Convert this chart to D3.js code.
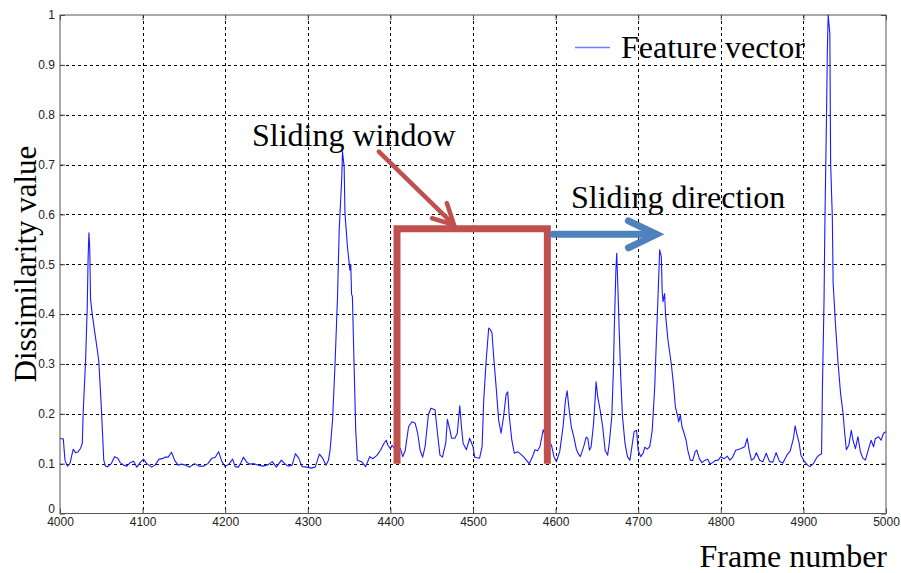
<!DOCTYPE html>
<html>
<head>
<meta charset="utf-8">
<script src="https://cdn.jsdelivr.net/npm/d3@7"></script>
<style>
  html, body { margin: 0; padding: 0; background: #fff; }
  svg { display: block; }
  .tick text { font-family: "Liberation Sans", Arial, sans-serif; font-size: 12px; fill: #222; }
  .serif { font-family: "Liberation Serif", "Times New Roman", serif; fill: #000; }
</style>
</head>
<body>
<svg id="chart" width="901" height="573"></svg>
<script>
// Frame index and dissimilarity value of the feature vector
const frames = [
  4000,4004,4006,4009,4012,4016,4019,4022,4025,4027,4028,4031,4033,4034,4035,4036,4037,4039,4042,4045,
  4047,4050,4053,4055,4058,4062,4066,4070,4073,4077,4081,4085,4089,4093,4097,4101,4105,4111,4115,4120,
  4124,4127,4131,4135,4139,4143,4147,4152,4157,4163,4168,4174,4179,4184,4188,4192,4196,4200,4205,4209,
  4212,4216,4219,4222,4226,4230,4235,4240,4246,4252,4257,4262,4268,4272,4276,4281,4285,4289,4293,4299,
  4304,4309,4314,4318,4322,4325,4327,4330,4333,4336,4338,4341,4342,4344,4345,4348,4351,4352,4353,4354,
  4356,4358,4360,4365,4370,4375,4379,4384,4388,4392,4395,4397,4400,4402,4405,4412,4415,4418,4422,4426,
  4430,4433,4436,4439,4442,4446,4449,4454,4457,4460,4463,4467,4469,4472,4474,4478,4481,4484,4486,4488,
  4492,4496,4500,4502,4508,4511,4513,4516,4519,4521,4523,4525,4528,4531,4534,4537,4540,4542,4544,4547,
  4550,4554,4557,4561,4565,4568,4572,4575,4578,4581,4585,4588,4592,4595,4598,4601,4605,4609,4612,4614,
  4616,4619,4622,4625,4627,4630,4634,4637,4639,4641,4643,4646,4648,4649,4651,4654,4657,4660,4663,4665,
  4668,4670,4671,4673,4674,4675,4677,4679,4681,4684,4687,4690,4693,4695,4698,4700,4703,4706,4708,4711,
  4714,4717,4720,4722,4724,4726,4728,4729,4730,4732,4733,4736,4740,4743,4745,4748,4749,4751,4753,4755,
  4758,4760,4763,4766,4769,4771,4774,4777,4781,4784,4787,4790,4793,4797,4800,4804,4808,4811,4814,4818,
  4824,4829,4832,4834,4837,4840,4843,4847,4851,4855,4859,4863,4867,4871,4875,4880,4884,4888,4890,4892,
  4895,4897,4901,4905,4908,4912,4916,4919,4922,4923,4925,4926,4928,4929,4930,4932,4933,4935,4936,4939,
  4942,4945,4948,4950,4952,4955,4958,4960,4963,4966,4969,4972,4975,4979,4982,4985,4987,4991,4994,4997,
  5000
];
const values = [
  0.150,0.150,0.107,0.095,0.100,0.129,0.122,0.124,0.131,0.141,0.200,0.308,0.415,0.510,0.563,0.532,0.430,0.400,0.365,0.330,
  0.305,0.214,0.107,0.095,0.094,0.100,0.114,0.111,0.102,0.097,0.095,0.102,0.105,0.093,0.102,0.109,0.100,0.093,0.097,0.109,
  0.110,0.113,0.113,0.123,0.106,0.097,0.099,0.097,0.093,0.100,0.095,0.095,0.100,0.111,0.113,0.124,0.104,0.094,0.100,0.109,
  0.094,0.093,0.102,0.113,0.103,0.099,0.100,0.097,0.095,0.098,0.104,0.093,0.107,0.100,0.095,0.097,0.120,0.111,0.094,0.093,
  0.091,0.093,0.119,0.111,0.097,0.107,0.127,0.188,0.301,0.435,0.569,0.669,0.726,0.696,0.602,0.535,0.488,0.500,0.440,0.435,
  0.301,0.168,0.107,0.104,0.094,0.114,0.110,0.117,0.127,0.140,0.147,0.137,0.130,0.137,0.130,0.131,0.114,0.127,0.174,0.184,
  0.181,0.161,0.127,0.113,0.134,0.198,0.211,0.208,0.161,0.117,0.113,0.141,0.189,0.168,0.151,0.151,0.161,0.216,0.174,0.141,
  0.128,0.151,0.134,0.113,0.111,0.134,0.228,0.308,0.372,0.369,0.362,0.315,0.254,0.188,0.161,0.194,0.238,0.244,0.194,0.147,
  0.121,0.124,0.120,0.114,0.106,0.100,0.114,0.128,0.126,0.134,0.168,0.154,0.145,0.137,0.114,0.104,0.124,0.174,0.228,0.246,
  0.214,0.174,0.154,0.130,0.121,0.114,0.134,0.153,0.151,0.127,0.134,0.181,0.234,0.264,0.234,0.207,0.174,0.127,0.117,0.141,
  0.194,0.288,0.368,0.489,0.522,0.475,0.368,0.268,0.194,0.141,0.114,0.107,0.141,0.164,0.167,0.127,0.114,0.121,0.133,0.129,
  0.134,0.167,0.254,0.348,0.435,0.529,0.515,0.448,0.425,0.441,0.401,0.348,0.301,0.254,0.214,0.194,0.184,0.198,0.174,0.164,
  0.147,0.127,0.107,0.106,0.124,0.127,0.110,0.102,0.107,0.109,0.100,0.102,0.106,0.107,0.114,0.110,0.115,0.107,0.112,0.127,
  0.130,0.134,0.151,0.130,0.107,0.110,0.122,0.107,0.104,0.121,0.104,0.103,0.122,0.105,0.101,0.117,0.125,0.151,0.176,0.160,
  0.140,0.117,0.105,0.097,0.094,0.100,0.112,0.117,0.120,0.250,0.430,0.580,0.800,0.930,1.000,0.963,0.700,0.596,0.462,0.375,
  0.301,0.241,0.201,0.161,0.128,0.137,0.167,0.147,0.130,0.154,0.124,0.111,0.107,0.130,0.147,0.134,0.150,0.154,0.147,0.161,
  0.164
];

// Tick values
const xTicks = d3.range(4000, 5001, 100);
const yTicks = [0, 0.1, 0.2, 0.3, 0.4, 0.5, 0.6, 0.7, 0.8, 0.9, 1];

// Sliding window (frame range and value range) and sliding direction arrow
const windowFrames = [4408, 4590];
const windowValues = [0.1, 0.571];
const windowArrow = [[4386, 0.726], [4477, 0.579]];
const directionArrow = [[4597, 0.56], [4722, 0.56]];

const svg = d3.select("#chart");
const x = d3.scaleLinear().domain([4000, 5000]).range([60, 886]);
const y = d3.scaleLinear().domain([0, 1]).range([513.5, 15]);
const [x0, x1] = x.range();
const [yb, yt] = y.range();

// Dotted grid
const grid = svg.append("g").attr("stroke", "#000").attr("stroke-width", 1)
  .attr("stroke-dasharray", "3,3");
grid.selectAll("line.v").data(xTicks.slice(1, -1)).join("line").attr("class", "v")
  .attr("x1", d => Math.round(x(d)) + 0.5).attr("x2", d => Math.round(x(d)) + 0.5)
  .attr("y1", yt).attr("y2", yb);
grid.selectAll("line.h").data(yTicks.slice(1, -1)).join("line").attr("class", "h")
  .attr("y1", d => Math.round(y(d)) + 0.5).attr("y2", d => Math.round(y(d)) + 0.5)
  .attr("x1", x0).attr("x2", x1);

// Axes with inward ticks on all four sides
const fmtY = d => (d === 0 ? "0" : d === 1 ? "1" : d.toFixed(1));
const styleAxis = g => {
  g.select(".domain").remove();
  g.selectAll(".tick line").attr("stroke", "#444");
};
svg.append("g").attr("transform", `translate(${x0},0)`)
  .call(d3.axisLeft(y).tickValues(yTicks).tickSize(-5).tickPadding(5).tickFormat(fmtY))
  .call(styleAxis)
  .call(g => g.selectAll(".tick text").filter(d => d === 0).attr("dy", "-0.05em"));
svg.append("g").attr("transform", `translate(${x1},0)`)
  .call(d3.axisRight(y).tickValues(yTicks).tickSize(-5).tickFormat(""))
  .call(styleAxis);
svg.append("g").attr("transform", `translate(0,${yb})`)
  .call(d3.axisBottom(x).tickValues(xTicks).tickSize(-5).tickPadding(4).tickFormat(d3.format("d")))
  .call(styleAxis);
svg.append("g").attr("transform", `translate(0,${yt})`)
  .call(d3.axisTop(x).tickValues(xTicks).tickSize(-5).tickFormat(""))
  .call(styleAxis);

// Plot box
svg.append("rect").attr("x", x0).attr("y", yt).attr("width", x1 - x0).attr("height", yb - yt)
  .attr("fill", "none").attr("stroke", "#555").attr("stroke-width", 1);

// Feature vector line
const line = d3.line().x((d, i) => x(frames[i])).y(d => y(d));
svg.append("path").datum(values).attr("d", line)
  .attr("fill", "none").attr("stroke", "#1a1aff").attr("stroke-width", 1.1)
  .attr("stroke-linejoin", "round");

// Legend
svg.append("line").attr("x1", 575).attr("x2", 610).attr("y1", 47.5).attr("y2", 47.5)
  .attr("stroke", "#6f7dff").attr("stroke-width", 1.5);
svg.append("text").attr("class", "serif").attr("x", 621).attr("y", 58)
  .attr("font-size", 32).text("Feature vector");

// Sliding window bracket
const red = "#c0504d";
svg.append("path")
  .attr("d", d3.line()([
    [x(windowFrames[0]), y(windowValues[0])],
    [x(windowFrames[0]), y(windowValues[1])],
    [x(windowFrames[1]), y(windowValues[1])],
    [x(windowFrames[1]), y(windowValues[0])]
  ]))
  .attr("fill", "none").attr("stroke", red).attr("stroke-width", 7)
  .attr("stroke-linejoin", "miter");

// Open-headed arrow helper
function arrow(p0, p1, color, width, head, spread) {
  const a = [x(p0[0]), y(p0[1])], b = [x(p1[0]), y(p1[1])];
  const ang = Math.atan2(b[1] - a[1], b[0] - a[0]);
  const g = svg.append("g").attr("fill", "none").attr("stroke", color)
    .attr("stroke-width", width).attr("stroke-linecap", "round").attr("stroke-linejoin", "miter");
  g.append("path").attr("d", d3.line()([a, [b[0] - Math.cos(ang) * width * 0.8, b[1] - Math.sin(ang) * width * 0.8]]));
  const wing = s => [b[0] - head * Math.cos(ang + s * spread), b[1] - head * Math.sin(ang + s * spread)];
  g.append("path").attr("d", d3.line()([wing(1), b, wing(-1)]));
}
arrow(windowArrow[0], windowArrow[1], red, 4.5, 23, 0.48);
arrow(directionArrow[0], directionArrow[1], "#4f81bd", 7, 31, 0.45);

// Annotation text
svg.append("text").attr("class", "serif").attr("x", 252).attr("y", 146)
  .attr("font-size", 32).text("Sliding window");
svg.append("text").attr("class", "serif").attr("x", 571).attr("y", 208)
  .attr("font-size", 32).text("Sliding direction");

// Axis titles
svg.append("text").attr("class", "serif").attr("x", 887).attr("y", 567)
  .attr("text-anchor", "end").attr("font-size", 32).text("Frame number");
svg.append("text").attr("class", "serif")
  .attr("transform", "translate(36,264) rotate(-90)")
  .attr("text-anchor", "middle").attr("font-size", 31).text("Dissimilarity value");
</script>
</body>
</html>
